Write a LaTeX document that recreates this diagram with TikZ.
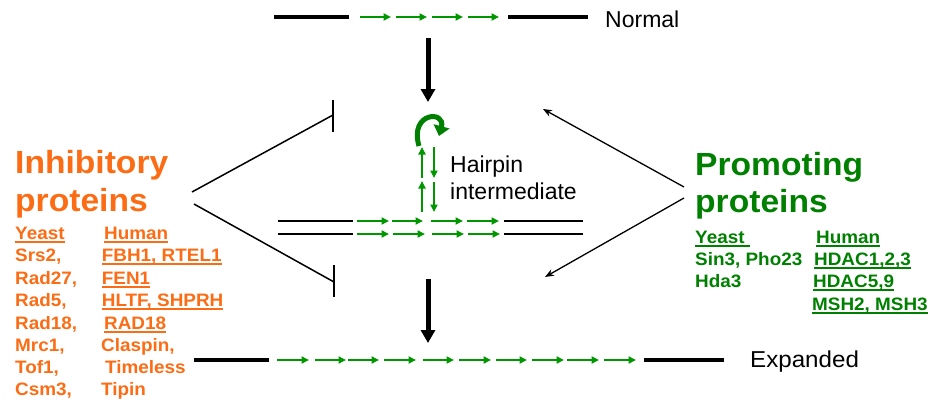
\documentclass[tikz,border=0pt]{standalone}
\usepackage{fontspec}
\usepackage{graphicx}
\setmainfont{Liberation Sans}
\usetikzlibrary{arrows.meta}
\definecolor{orng}{RGB}{252,108,20}
\definecolor{grtxt}{RGB}{0,128,0}
\definecolor{grarr}{RGB}{0,150,0}
\newcommand\ulbox[1]{\setbox0=\hbox{#1}\rlap{\vrule width\wd0 height -2.3pt depth 4pt}\box0}
\newcommand\sxw[1]{\scalebox{1.05}[1]{#1}}
\tikzset{
  thickbl/.style={line width=4.5pt},
  thinbl/.style={line width=1.8pt},
  garr/.style={grarr, line width=2.2pt, -{Triangle[length=7.5pt,width=7pt]}},
  bigdown/.style={line width=5pt, -{Triangle[length=13pt,width=14pt]}},
  inhib/.style={line width=1.5pt},
  tbar/.style={line width=2.6pt},
  promo/.style={line width=1.3pt, -{Stealth[length=9pt,width=7pt]}},
  lbl/.style={anchor=base west, inner sep=0pt, font=\fontsize{23}{23}\selectfont},
  head/.style={anchor=base west, inner sep=0pt, font=\fontsize{32}{32}\selectfont\bfseries},
  small/.style={anchor=base west, inner sep=0pt, font=\fontsize{18}{18}\selectfont\bfseries},
}
\begin{document}
\begin{tikzpicture}[x=1pt,y=-1pt]
\useasboundingbox (0,0) rectangle (930,402);
% ---- Normal
\draw[thickbl] (274,17) -- (349,17);
\draw[thickbl] (508,17) -- (588,17);
\foreach \a/\b in {360/391,396/427,432/463,468/499}
  \draw[garr] (\a,17) -- (\b,17);
\node[lbl] (normal) at (605,27) {Normal};
% ---- big arrows
\coordinate (d1s) at (428,38); \coordinate (d1e) at (428,102);
\draw[bigdown] (d1s) -- (d1e);
\coordinate (d2s) at (428,279); \coordinate (d2e) at (428,343);
\draw[bigdown] (d2s) -- (d2e);
% ---- hairpin
\foreach \y in {221,234}{
  \draw[thinbl] (278,\y) -- (353,\y);
  \draw[thinbl] (504,\y) -- (583,\y);
}
\foreach \a/\b in {357/389,392/423,431/463,467/499}
  \draw[garr] (\a,221) -- (\b,221);
\foreach \a/\b in {357/389,393/425,432/464,468/500}
  \draw[garr] (\a,234) -- (\b,234);
\draw[garr] (422,212) -- (422,181);
\draw[garr] (422,178) -- (422,147);
\draw[garr] (434,147) -- (434,178);
\draw[garr] (434,182) -- (434,212);
\draw[grtxt, line width=5pt, -{Triangle[length=10pt,width=16pt]}]
  (419,146) .. controls (409,112) and (446,110) .. (439,136);
\node[lbl] (hp1) at (450,172) {Hairpin};
\node[lbl] (hp2) at (450,199) {intermediate};
% ---- inhibitory connectors
\coordinate (i1s) at (192,192); \coordinate (i1e) at (333,115);
\coordinate (i2s) at (194,204); \coordinate (i2e) at (334,282);
\draw[inhib] (i1s) -- (i1e);
\draw[tbar] (333,100) -- (333,132);
\draw[inhib] (i2s) -- (i2e);
\draw[tbar] (334,265) -- (334,297);
% ---- promoting connectors
\coordinate (p1s) at (684,187); \coordinate (p1e) at (543,109);
\coordinate (p2s) at (684,198); \coordinate (p2e) at (545,277);
\draw[promo] (p1s) -- (p1e);
\draw[promo] (p2s) -- (p2e);
% ---- Expanded
\draw[thickbl] (194,360) -- (269,360);
\draw[thickbl] (644,360) -- (724,360);
\foreach \a/\b in {277/309,315/346,348/379,384/416,423/454,459/491,496/527,532/564,567/599,604/636}
  \draw[garr] (\a,360) -- (\b,360);
\node[lbl] (exp) at (750,367) {\sxw{Expanded}};
% ---- Inhibitory text
\node[head, orng] (ih1) at (15,173) {\sxw{Inhibitory}};
\node[head, orng] (ih2) at (15,211) {\sxw{proteins}};
\node[small, orng] (ly0) at (15,239) {\sxw{\ulbox{Yeast}}};
\node[small, orng] (lh0) at (104,239) {\sxw{\ulbox{Human}}};
\node[small, orng] (ly1) at (15,261) {\sxw{Srs2,}};
\node[small, orng] (lh1) at (101.7,261) {\sxw{\ulbox{FBH1, RTEL1}}};
\node[small, orng] (ly2) at (15,284) {\sxw{Rad27,}};
\node[small, orng] (lh2) at (101.7,284) {\sxw{\ulbox{FEN1}}};
\node[small, orng] (ly3) at (15,306) {\sxw{Rad5,}};
\node[small, orng] (lh3) at (101.7,306) {\sxw{\ulbox{HLTF, SHPRH}}};
\node[small, orng] (ly4) at (15,329) {\sxw{Rad18,}};
\node[small, orng] (lh4) at (104,329) {\sxw{\ulbox{RAD18}}};
\node[small, orng] (ly5) at (15,351) {\sxw{Mrc1,}};
\node[small, orng] (lh5) at (101,351) {\sxw{Claspin,}};
\node[small, orng] (ly6) at (15,373) {\sxw{Tof1,}};
\node[small, orng] (lh6) at (105,373) {\sxw{Timeless}};
\node[small, orng] (ly7) at (15,395) {\sxw{Csm3,}};
\node[small, orng] (lh7) at (101,395) {\sxw{Tipin}};
% ---- Promoting text
\node[head, grtxt] (ph1) at (695,175) {\sxw{Promoting}};
\node[head, grtxt] (ph2) at (695,212) {\sxw{proteins}};
\node[small, grtxt] (ry0) at (695,243) {\sxw{\ulbox{Yeast\ }}};
\node[small, grtxt] (rh0) at (816,243) {\sxw{\ulbox{Human}}};
\node[small, grtxt] (ry1) at (695,265) {\sxw{Sin3, Pho23}};
\node[small, grtxt] (rh1) at (814,265) {\sxw{\ulbox{HDAC1,2,3}}};
\node[small, grtxt] (ry2) at (695,287) {\sxw{Hda3}};
\node[small, grtxt] (rh2) at (813,287) {\sxw{\ulbox{HDAC5,9}}};
\node[small, grtxt] (rh3) at (812,310) {\sxw{\ulbox{MSH2, MSH3}}};
\end{tikzpicture}
\end{document}
